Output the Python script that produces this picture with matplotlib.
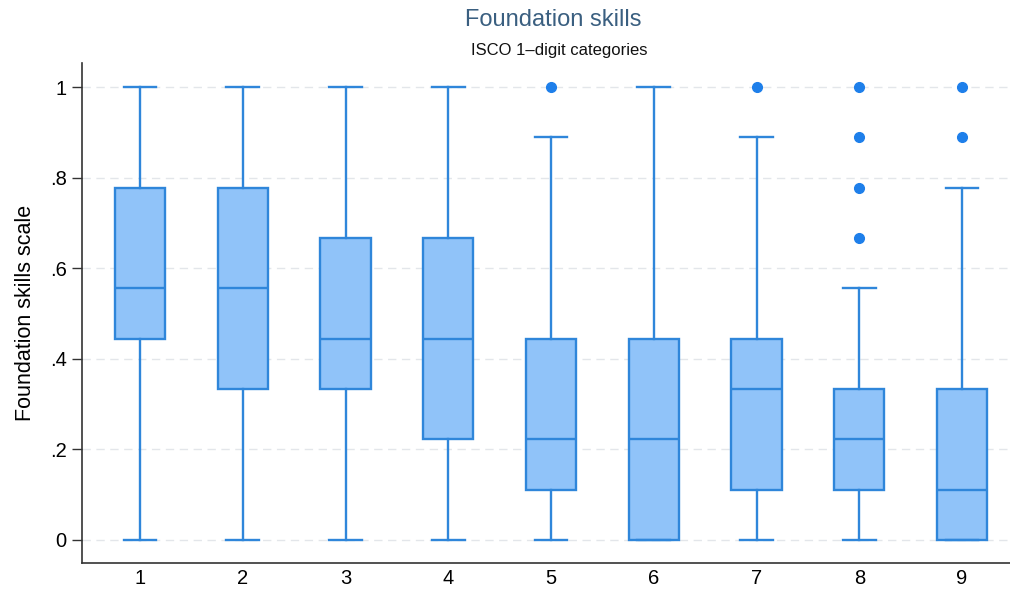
import matplotlib.pyplot as plt

plt.rcParams['font.family'] = ['Liberation Sans', 'DejaVu Sans']

# ISCO 1-digit categories and box statistics (scale steps of 1/9)
cats = [1, 2, 3, 4, 5, 6, 7, 8, 9]
lo = [0, 0, 0, 0, 0, 0, 0, 0, 0]
q1 = [4/9, 3/9, 3/9, 2/9, 1/9, 0, 1/9, 1/9, 0]
med = [5/9, 5/9, 4/9, 4/9, 2/9, 2/9, 3/9, 2/9, 1/9]
q3 = [7/9, 7/9, 6/9, 6/9, 4/9, 4/9, 4/9, 3/9, 3/9]
hi = [1, 1, 1, 1, 8/9, 1, 8/9, 5/9, 7/9]
outliers = [[], [], [], [], [1], [], [1], [6/9, 7/9, 8/9, 1], [8/9, 1]]

stats = []
for i in range(len(cats)):
    stats.append(dict(whislo=lo[i], q1=q1[i], med=med[i], q3=q3[i],
                      whishi=hi[i], fliers=outliers[i]))

edge = '#2f86da'
fill = '#90c3f9'

fig = plt.figure(figsize=(10.1, 5.89), dpi=100)
ax = fig.add_axes([82/1010, 26/589, 1 - 82/1010, 1 - 26/589 - 63/589])

ax.bxp(stats, positions=cats, widths=0.49, patch_artist=True,
       boxprops=dict(facecolor=fill, edgecolor=edge, linewidth=1.7),
       medianprops=dict(color=edge, linewidth=1.7),
       whiskerprops=dict(color=edge, linewidth=1.7),
       capprops=dict(color=edge, linewidth=1.7),
       capwidths=0.32,
       flierprops=dict(marker='o', markerfacecolor='#1e7fea', markeredgecolor='#1e7fea',
                       markersize=7))

ax.set_xlim(0.4355, 9.467)
ax.set_ylim(-0.051, 1.053)
ax.set_yticks([0, 0.2, 0.4, 0.6, 0.8, 1])
ax.set_yticklabels(['0', '.2', '.4', '.6', '.8', '1'])
ax.set_xticks(cats)
ax.set_xticklabels([str(c) for c in cats])
ax.tick_params(axis='y', labelsize=14.5, length=7, width=1, color='#333333', pad=4)
ax.tick_params(axis='x', labelsize=14.5, length=0, pad=4)
ax.yaxis.grid(True, color='#e3e6ea', linestyle=(0, (6, 4)), linewidth=1)
ax.set_axisbelow(True)
for s in ['top', 'right']:
    ax.spines[s].set_visible(False)
for s in ['left', 'bottom']:
    ax.spines[s].set_color('#333333')
    ax.spines[s].set_linewidth(1.2)

ax.set_ylabel('Foundation skills scale', fontsize=15.5, labelpad=10)
fig.text(553/1010, 1 - 20/589, 'Foundation skills', ha='center', va='center',
         fontsize=17, color='#3a5f80')
fig.text(559/1010, 1 - 51/589, 'ISCO 1\u2013digit categories', ha='center', va='center',
         fontsize=12, color='#111111')

fig.savefig('out.png', dpi=100)
